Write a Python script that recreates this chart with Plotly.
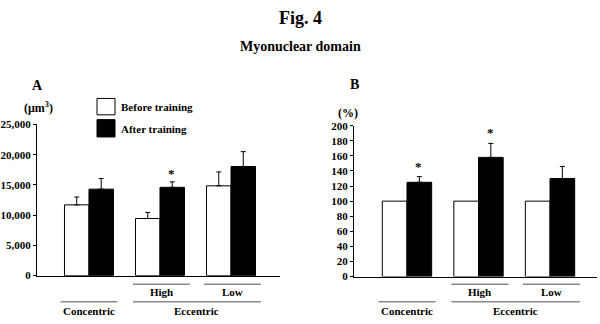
import plotly.graph_objects as go

groups = ["Concentric", "High", "Low"]
# Panel A: myonuclear domain (µm³)
a_before = [11700, 9450, 14850]
a_before_err = [13000, 10450, 17150]
a_after = [14300, 14600, 18050]
a_after_err = [16050, 15500, 20500]
a_star = [False, True, False]
# Panel B: % of pre
b_before = [100, 100, 100]
b_after = [125, 158, 130]
b_after_err = [132.5, 176.5, 146]
b_star = [True, True, False]

FONT = "Liberation Serif"
W, H = 600, 324

def py(p):
    return 1 - p / H

def px(p):
    return p / W

fig = go.Figure()

def add_bars(xa, ya, before, after, before_err, after_err):
    kw = dict(xaxis=xa, yaxis=ya, showlegend=False)
    eb = None
    if before_err is not None:
        eb = dict(type="data", symmetric=False,
                  array=[e - v for e, v in zip(before_err, before)],
                  arrayminus=[0] * len(before), color="black", thickness=1, width=2.5)
    fig.add_trace(go.Bar(x=groups, y=before, marker=dict(color="white", line=dict(color="black", width=1)),
                         error_y=eb if eb else dict(visible=False), offsetgroup="0", **kw))
    ea = dict(type="data", symmetric=False,
              array=[e - v for e, v in zip(after_err, after)],
              arrayminus=[0] * len(after), color="black", thickness=1, width=2.5)
    fig.add_trace(go.Bar(x=groups, y=after, marker=dict(color="black", line=dict(color="black", width=1)),
                         error_y=ea, offsetgroup="1", **kw))

add_bars("x", "y", a_before, a_after, a_before_err, a_after_err)
add_bars("x2", "y2", b_before, b_after, None, b_after_err)

tickfont = dict(family=FONT, size=11, color="black", weight="bold")
fig.update_layout(
    width=W, height=H, margin=dict(l=0, r=0, t=0, b=0),
    paper_bgcolor="white", plot_bgcolor="white",
    barmode="group", bargap=0.31, bargroupgap=0,
    xaxis=dict(domain=[px(37), px(280)], range=[-0.732, 2.69], showline=True, linecolor="black",
               linewidth=1, showticklabels=False, ticks="", showgrid=False, zeroline=False, anchor="y"),
    yaxis=dict(domain=[py(280), py(123)], range=[0, 25000], tickvals=[0, 5000, 10000, 15000, 20000, 25000],
               tickformat=",d", showline=True, linecolor="black", linewidth=1, ticks="outside", ticklen=3,
               tickcolor="black", showgrid=False, zeroline=False, tickfont=tickfont, anchor="x"),
    xaxis2=dict(domain=[px(354), px(597)], range=[-0.741, 2.657], showline=True, linecolor="black",
                linewidth=1, showticklabels=False, ticks="", showgrid=False, zeroline=False, anchor="y2"),
    yaxis2=dict(domain=[py(281), py(124.3)], range=[0, 200], dtick=20, showline=True, linecolor="black",
                linewidth=1, ticks="outside", ticklen=3, tickcolor="black", showgrid=False, zeroline=False,
                tickfont=tickfont, anchor="x2"),
)

ann = []
shapes = []

def txt(x, y, s, size=11, xref="paper", yref="paper", xanchor="center", yanchor="middle", **k):
    ann.append(dict(x=x, y=y, text=s, xref=xref, yref=yref, xanchor=xanchor, yanchor=yanchor,
                    showarrow=False, font=dict(family=FONT, size=size, color="black", weight="bold"), **k))

txt(0.5, py(12), "Fig. 4", size=18)
txt(0.5, py(42), "Myonuclear domain", size=14)
txt(px(37), py(83), "A", size=14)
txt(px(38), py(105), "(μm<sup>3</sup>)", size=12)
txt(px(354), py(82), "B", size=14)
txt(px(348), py(111), "(%)", size=12)

# legend
shapes.append(dict(type="rect", xref="paper", yref="paper", x0=px(97), x1=px(115), y0=py(113), y1=py(96),
                   fillcolor="white", line=dict(color="black", width=1)))
shapes.append(dict(type="rect", xref="paper", yref="paper", x0=px(97), x1=px(115), y0=py(136), y1=py(118),
                   fillcolor="black", line=dict(color="black", width=1)))
txt(px(119), py(104.5), "Before training", xanchor="left")
txt(px(119), py(127.5), "After training", xanchor="left")

# stars
for i, s in enumerate(a_star):
    if s:
        txt(groups[i], a_after_err[i], "*", size=13, xref="x", yref="y", yanchor="bottom", xshift=12, yshift=-1)
for i, s in enumerate(b_star):
    if s:
        txt(groups[i], b_after_err[i], "*", size=13, xref="x2", yref="y2", yanchor="bottom", xshift=12, yshift=1)

# group brackets
for xr in ["x", "x2"]:
    line = dict(color="#888888", width=1.5)
    shapes.append(dict(type="line", xref=xr, yref="paper", x0=0.62, x1=1.42, y0=py(289), y1=py(289), line=line))
    shapes.append(dict(type="line", xref=xr, yref="paper", x0=1.62, x1=2.42, y0=py(289), y1=py(289), line=line))
    shapes.append(dict(type="line", xref=xr, yref="paper", x0=-0.4, x1=0.4, y0=py(307), y1=py(307), line=line))
    shapes.append(dict(type="line", xref=xr, yref="paper", x0=0.62, x1=2.42, y0=py(307), y1=py(307), line=line))
    txt(1.02, py(297.5), "High", xref=xr)
    txt(2.02, py(297.5), "Low", xref=xr)
    txt(0, py(317), "Concentric", xref=xr)
    txt(1.52, py(317), "Eccentric", xref=xr)

fig.update_layout(annotations=ann, shapes=shapes)
fig.write_html("out.html")
